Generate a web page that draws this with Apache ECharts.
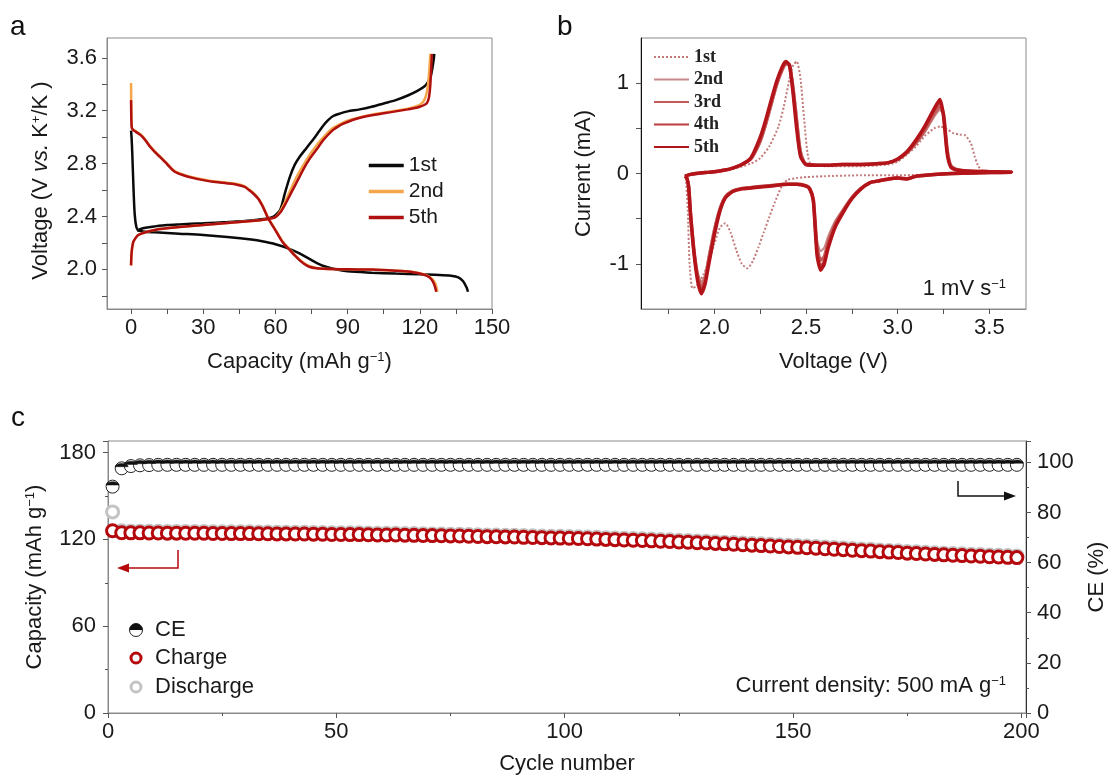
<!DOCTYPE html>
<html lang="en">
<head>
<meta charset="utf-8">
<title>Electrochemical performance</title>
<script src="https://cdn.jsdelivr.net/npm/echarts@6/dist/echarts.min.js"></script>
<style>
    html, body { margin: 0; padding: 0; background: #fff; }
    #chart { width: 1116px; height: 778px; }
</style>
</head>
<body>
<div id="chart"></div>
<script type="text/javascript">
    // ---- panel a: charge / discharge profiles (capacity mAh/g, voltage V)
    var cap1Dis = [0, 0.2, 0.5, 1.0, 1.5, 2.2, 3.0, 4, 6, 10, 20, 30, 40, 50, 55, 60, 65, 70, 75, 80, 85, 90, 100, 110, 120, 128, 133, 136, 138, 139.5, 140];
    var volt1Dis = [3.05, 3.0, 2.88, 2.62, 2.42, 2.32, 2.295, 2.29, 2.285, 2.28, 2.27, 2.26, 2.245, 2.225, 2.21, 2.19, 2.16, 2.12, 2.07, 2.025, 2.0, 1.985, 1.975, 1.968, 1.962, 1.958, 1.952, 1.94, 1.91, 1.86, 1.83];
    var cap1Chg = [2.5, 4, 6, 10, 15, 20, 30, 40, 50, 55, 58, 60, 62, 64, 66, 68, 70, 73, 76, 78, 80, 82, 84, 87, 90, 95, 100, 105, 110, 115, 119, 122, 123.5, 124.5, 125.3, 125.8, 126];
    var volt1Chg = [2.29, 2.305, 2.315, 2.325, 2.335, 2.34, 2.348, 2.358, 2.37, 2.38, 2.39, 2.41, 2.45, 2.58, 2.7, 2.79, 2.85, 2.92, 2.99, 3.04, 3.09, 3.13, 3.16, 3.18, 3.195, 3.21, 3.23, 3.255, 3.28, 3.315, 3.35, 3.385, 3.42, 3.46, 3.53, 3.59, 3.63];

    var cap2Dis = [0, 0.1, 0.3, 0.8, 2, 4, 6, 8, 10, 12, 15, 18, 22, 26, 30, 35, 40, 44, 47, 49, 51, 53, 55, 57, 60, 63, 66, 68, 70, 72, 74, 77, 80, 90, 100, 110, 116, 120, 123, 125, 126.3, 127, 127.3];
    var volt2Dis = [3.41, 3.2, 3.08, 3.06, 3.045, 3.02, 2.98, 2.93, 2.89, 2.855, 2.8, 2.745, 2.715, 2.695, 2.68, 2.665, 2.655, 2.645, 2.63, 2.605, 2.575, 2.535, 2.47, 2.39, 2.3, 2.21, 2.15, 2.11, 2.075, 2.045, 2.025, 2.01, 2.005, 2.0, 1.998, 1.99, 1.983, 1.97, 1.955, 1.93, 1.9, 1.86, 1.83];
    var cap2Chg = [0, 0.1, 0.3, 0.6, 1, 2, 3, 5, 8, 12, 20, 30, 40, 50, 55, 58, 60, 62, 64, 66, 68, 70, 72, 74, 76, 78, 80, 82, 84, 86, 88, 92, 96, 100, 105, 110, 115, 118, 120, 121.5, 122.5, 123.3, 123.8, 124.1, 124.4];
    var volt2Chg = [2.03, 2.09, 2.14, 2.18, 2.21, 2.24, 2.26, 2.275, 2.29, 2.305, 2.32, 2.335, 2.35, 2.365, 2.375, 2.385, 2.395, 2.44, 2.51, 2.59, 2.67, 2.74, 2.8, 2.86, 2.91, 2.96, 3.0, 3.04, 3.07, 3.09, 3.11, 3.135, 3.155, 3.17, 3.185, 3.2, 3.215, 3.23, 3.245, 3.27, 3.31, 3.38, 3.47, 3.55, 3.63];

    var cap5Dis = [0, 0.1, 0.3, 0.8, 2, 4, 6, 8, 10, 12, 15, 18, 22, 26, 30, 35, 40, 44, 47, 49, 51, 53, 55, 57, 60, 63, 66, 68, 70, 72, 74, 77, 80, 90, 100, 110, 116, 120, 123, 124.8, 125.9, 126.5, 126.8];
    var volt5Dis = [3.28, 3.15, 3.07, 3.055, 3.04, 3.015, 2.975, 2.925, 2.885, 2.85, 2.795, 2.74, 2.71, 2.69, 2.675, 2.66, 2.65, 2.64, 2.625, 2.6, 2.57, 2.53, 2.465, 2.385, 2.295, 2.205, 2.145, 2.105, 2.07, 2.04, 2.02, 2.008, 2.004, 2.0, 1.998, 1.99, 1.982, 1.968, 1.95, 1.925, 1.89, 1.855, 1.83];
    var cap5Chg = [0, 0.1, 0.3, 0.6, 1, 2, 3, 5, 8, 12, 20, 30, 40, 50, 55, 58, 60, 62, 64, 66, 68, 70, 72, 74, 76, 78, 80, 82, 84, 86, 88, 92, 96, 100, 105, 110, 115, 118, 120, 122, 123, 123.8, 124.3, 124.7, 125];
    var volt5Chg = [2.03, 2.09, 2.14, 2.18, 2.21, 2.24, 2.26, 2.275, 2.29, 2.305, 2.32, 2.335, 2.35, 2.365, 2.375, 2.385, 2.395, 2.43, 2.49, 2.56, 2.63, 2.7, 2.77, 2.83, 2.88, 2.93, 2.98, 3.02, 3.055, 3.08, 3.1, 3.13, 3.15, 3.165, 3.18, 3.195, 3.21, 3.22, 3.23, 3.245, 3.26, 3.3, 3.38, 3.5, 3.63];

    // ---- panel b: cyclic voltammetry (V, mA)
    var cv1VoltUp = [1.84, 1.9, 2.0, 2.1, 2.2, 2.25, 2.3, 2.35, 2.38, 2.41, 2.43, 2.45, 2.47, 2.49, 2.52, 2.6, 2.8, 2.95, 3.0, 3.05, 3.1, 3.15, 3.2, 3.23, 3.27, 3.3, 3.34, 3.37, 3.4, 3.42, 3.44, 3.47, 3.5, 3.62];
    var cv1CurUp = [-0.02, 0.0, 0.02, 0.05, 0.11, 0.17, 0.3, 0.52, 0.75, 1.05, 1.2, 1.24, 1.05, 0.6, 0.12, 0.08, 0.08, 0.1, 0.13, 0.21, 0.3, 0.42, 0.5, 0.52, 0.49, 0.45, 0.43, 0.42, 0.33, 0.19, 0.08, 0.02, 0.012, 0.01];
    var cv1VoltDown = [3.62, 3.4, 3.2, 3.0, 2.8, 2.6, 2.5, 2.45, 2.4, 2.37, 2.33, 2.3, 2.27, 2.24, 2.21, 2.18, 2.15, 2.12, 2.09, 2.06, 2.03, 2.0, 1.97, 1.94, 1.92, 1.9, 1.88, 1.865, 1.855, 1.845];
    var cv1CurDown = [0.01, 0.0, -0.01, -0.02, -0.02, -0.03, -0.04, -0.05, -0.07, -0.13, -0.32, -0.48, -0.65, -0.82, -0.97, -1.05, -1.0, -0.85, -0.66, -0.55, -0.6, -0.78, -0.98, -1.12, -1.2, -1.25, -1.27, -1.0, -0.4, -0.05];

    // cycles 2-5 share the same voltage steps
    var cvVoltUp = [1.84, 1.87, 1.9, 1.95, 2.0, 2.05, 2.1, 2.15, 2.2, 2.25, 2.28, 2.31, 2.34, 2.37, 2.39, 2.41, 2.43, 2.45, 2.47, 2.5, 2.6, 2.7, 2.8, 2.9, 2.95, 3.0, 3.05, 3.1, 3.15, 3.2, 3.23, 3.25, 3.27, 3.29, 3.32, 3.4, 3.5, 3.62];
    var cvVoltDown = [3.62, 3.5, 3.4, 3.3, 3.2, 3.1, 3.05, 3.0, 2.95, 2.9, 2.85, 2.8, 2.75, 2.7, 2.66, 2.62, 2.6, 2.58, 2.56, 2.54, 2.52, 2.5, 2.45, 2.4, 2.3, 2.2, 2.15, 2.1, 2.06, 2.03, 2.0, 1.97, 1.95, 1.93, 1.91, 1.89, 1.87, 1.86, 1.85, 1.84];
    var cv2CurUp = [-0.03, -0.01, 0.0, 0.01, 0.02, 0.035, 0.06, 0.1, 0.16, 0.34, 0.52, 0.74, 0.96, 1.13, 1.2, 1.19, 1.0, 0.65, 0.28, 0.11, 0.09, 0.1, 0.1, 0.11, 0.12, 0.15, 0.22, 0.33, 0.46, 0.63, 0.7, 0.66, 0.3, 0.1, 0.05, 0.025, 0.02, 0.015];
    var cv3CurUp = [-0.03, -0.01, 0.0, 0.01, 0.02, 0.035, 0.06, 0.1, 0.165, 0.36, 0.55, 0.77, 0.99, 1.15, 1.22, 1.2, 0.92, 0.55, 0.22, 0.1, 0.09, 0.1, 0.1, 0.11, 0.12, 0.155, 0.23, 0.34, 0.49, 0.67, 0.74, 0.66, 0.26, 0.08, 0.045, 0.025, 0.02, 0.015];
    var cv4CurUp = [-0.03, -0.01, 0.0, 0.01, 0.02, 0.035, 0.06, 0.1, 0.17, 0.37, 0.57, 0.79, 1.01, 1.17, 1.23, 1.2, 0.9, 0.5, 0.2, 0.1, 0.09, 0.1, 0.1, 0.11, 0.12, 0.16, 0.235, 0.35, 0.51, 0.7, 0.78, 0.66, 0.24, 0.075, 0.04, 0.025, 0.02, 0.015];
    var cv5CurUp = [-0.03, -0.01, 0.0, 0.01, 0.02, 0.035, 0.06, 0.1, 0.175, 0.4, 0.59, 0.81, 1.02, 1.18, 1.24, 1.2, 0.88, 0.48, 0.19, 0.1, 0.09, 0.1, 0.1, 0.11, 0.12, 0.16, 0.24, 0.37, 0.53, 0.72, 0.82, 0.64, 0.22, 0.07, 0.04, 0.025, 0.02, 0.015];
    var cv2CurDown = [0.01, 0.01, 0.005, 0.0, -0.01, -0.03, -0.06, -0.05, -0.06, -0.08, -0.1, -0.16, -0.26, -0.4, -0.52, -0.7, -0.82, -0.86, -0.74, -0.28, -0.16, -0.13, -0.12, -0.12, -0.13, -0.15, -0.16, -0.19, -0.25, -0.38, -0.6, -0.9, -1.12, -1.2, -1.1, -0.84, -0.42, -0.14, -0.05, -0.03];
    var cv3CurDown = [0.01, 0.01, 0.005, 0.0, -0.01, -0.03, -0.06, -0.05, -0.06, -0.08, -0.1, -0.165, -0.27, -0.42, -0.56, -0.77, -0.92, -0.96, -0.82, -0.29, -0.165, -0.135, -0.12, -0.12, -0.135, -0.155, -0.165, -0.195, -0.26, -0.4, -0.64, -0.95, -1.17, -1.26, -1.15, -0.87, -0.44, -0.15, -0.05, -0.03];
    var cv4CurDown = [0.01, 0.01, 0.005, 0.0, -0.01, -0.03, -0.06, -0.05, -0.06, -0.08, -0.1, -0.17, -0.28, -0.43, -0.58, -0.8, -0.97, -1.02, -0.86, -0.3, -0.17, -0.14, -0.12, -0.12, -0.14, -0.16, -0.17, -0.2, -0.27, -0.41, -0.66, -0.98, -1.2, -1.29, -1.18, -0.89, -0.45, -0.15, -0.05, -0.03];
    var cv5CurDown = [0.01, 0.01, 0.005, 0.0, -0.01, -0.03, -0.06, -0.05, -0.06, -0.08, -0.1, -0.17, -0.28, -0.44, -0.59, -0.83, -1.0, -1.07, -0.9, -0.3, -0.17, -0.14, -0.12, -0.12, -0.14, -0.16, -0.17, -0.2, -0.27, -0.42, -0.68, -1.0, -1.22, -1.33, -1.2, -0.9, -0.45, -0.15, -0.05, -0.03];

    // ---- panel c: cycling at 500 mA/g
    var cycles = [
        1, 3, 5, 7, 9, 11, 13, 15, 17, 19,
        21, 23, 25, 27, 29, 31, 33, 35, 37, 39,
        41, 43, 45, 47, 49, 51, 53, 55, 57, 59,
        61, 63, 65, 67, 69, 71, 73, 75, 77, 79,
        81, 83, 85, 87, 89, 91, 93, 95, 97, 99,
        101, 103, 105, 107, 109, 111, 113, 115, 117, 119,
        121, 123, 125, 127, 129, 131, 133, 135, 137, 139,
        141, 143, 145, 147, 149, 151, 153, 155, 157, 159,
        161, 163, 165, 167, 169, 171, 173, 175, 177, 179,
        181, 183, 185, 187, 189, 191, 193, 195, 197, 199];
    var chargeCap = [
        126.0, 124.6, 124.5, 124.5, 124.4, 124.4, 124.3, 124.3, 124.2, 124.2,
        124.2, 124.1, 124.1, 124.0, 124.0, 124.0, 123.9, 123.9, 123.8, 123.8,
        123.7, 123.7, 123.6, 123.5, 123.4, 123.4, 123.3, 123.3, 123.2, 123.1,
        123.0, 123.0, 122.9, 122.8, 122.7, 122.6, 122.5, 122.4, 122.3, 122.2,
        122.0, 121.9, 121.8, 121.7, 121.6, 121.4, 121.3, 121.2, 121.0, 120.9,
        120.8, 120.6, 120.4, 120.2, 120.0, 119.8, 119.6, 119.4, 119.2, 119.0,
        118.7, 118.5, 118.2, 118.0, 117.7, 117.5, 117.2, 116.9, 116.6, 116.3,
        116.0, 115.7, 115.4, 115.1, 114.8, 114.5, 114.2, 113.9, 113.5, 113.2,
        112.9, 112.5, 112.2, 111.9, 111.5, 111.2, 110.9, 110.5, 110.2, 109.9,
        109.6, 109.3, 109.0, 108.8, 108.5, 108.3, 108.0, 107.8, 107.6, 107.4];
    var dischargeCap = [
        139.0, 125.9, 125.7, 125.7, 125.6, 125.6, 125.5, 125.5, 125.4, 125.4,
        125.4, 125.3, 125.3, 125.2, 125.2, 125.2, 125.1, 125.1, 125.0, 125.0,
        124.9, 124.9, 124.8, 124.7, 124.6, 124.6, 124.5, 124.5, 124.4, 124.3,
        124.2, 124.2, 124.1, 124.0, 123.9, 123.8, 123.7, 123.6, 123.5, 123.4,
        123.2, 123.1, 123.0, 122.9, 122.8, 122.6, 122.5, 122.4, 122.2, 122.1,
        122.0, 121.8, 121.6, 121.4, 121.2, 121.0, 120.8, 120.6, 120.4, 120.2,
        119.9, 119.7, 119.4, 119.2, 118.9, 118.7, 118.4, 118.1, 117.8, 117.5,
        117.2, 116.9, 116.6, 116.3, 116.0, 115.7, 115.4, 115.1, 114.7, 114.4,
        114.1, 113.7, 113.4, 113.1, 112.7, 112.4, 112.1, 111.7, 111.4, 111.1,
        110.8, 110.5, 110.2, 110.0, 109.7, 109.5, 109.2, 109.0, 108.8, 108.6];
    var coulombEff = [
        90.3, 97.6, 98.5, 98.8, 98.9, 99.0, 99.0, 99.0, 99.0, 99.0,
        99.0, 99.0, 99.0, 99.0, 99.0, 99.0, 99.0, 99.0, 99.0, 99.0,
        99.0, 99.0, 99.0, 99.0, 99.0, 99.0, 99.0, 99.0, 99.0, 99.0,
        99.0, 99.0, 99.0, 99.0, 99.0, 99.0, 99.0, 99.0, 99.0, 99.0,
        99.0, 99.0, 99.0, 99.0, 99.0, 99.0, 99.0, 99.0, 99.0, 99.0,
        99.0, 99.0, 99.0, 99.0, 99.0, 99.0, 99.0, 99.0, 99.0, 99.0,
        99.0, 99.0, 99.0, 99.0, 99.0, 99.0, 99.0, 99.0, 99.0, 99.0,
        99.0, 99.0, 99.0, 99.0, 99.0, 99.0, 99.0, 99.0, 99.0, 99.0,
        99.0, 99.0, 99.0, 99.0, 99.0, 99.0, 99.0, 99.0, 99.0, 99.0,
        99.0, 99.0, 99.0, 99.0, 99.0, 99.0, 99.0, 99.0, 99.0, 99.0];

    // tick positions
    var capTicksA = [0, 15, 30, 45, 60, 75, 90, 105, 120, 135, 150];
    var capLabelsA = [0, 30, 60, 90, 120, 150];
    var voltTicksA = [1.8, 2.0, 2.2, 2.4, 2.6, 2.8, 3.0, 3.2, 3.4, 3.6];
    var voltLabelsA = [2.0, 2.4, 2.8, 3.2, 3.6];
    var voltTicksB = [1.75, 2.0, 2.25, 2.5, 2.75, 3.0, 3.25, 3.5];
    var voltLabelsB = [2.0, 2.5, 3.0, 3.5];
    var curTicksB = [-1, -0.5, 0, 0.5, 1];
    var curLabelsB = [-1, 0, 1];

    var FONT = 'Arial, "Liberation Sans", sans-serif';
    var TXT = '#1a1a1a';
    var BOX = '#8a8a8a';

    function zip(xs, ys) {
        return xs.map(function (x, i) { return [x, ys[i]]; });
    }

    var supRich = {
        sup: { fontSize: 13, fontFamily: FONT, color: TXT, verticalAlign: 'top', lineHeight: 13 },
        it: { fontSize: 22, fontFamily: FONT, color: TXT, fontStyle: 'italic' }
    };

    function axis(o) {
        var a = {
            gridIndex: o.grid, type: 'value', min: o.min, max: o.max,
            axisLine: { show: true, onZero: false, lineStyle: { color: o.lineColor || BOX, width: 1 } },
            axisTick: { show: true, length: 5, lineStyle: { color: '#555' } },
            axisLabel: { fontSize: 22, color: TXT, fontFamily: FONT, margin: o.margin || 8 },
            splitLine: { show: false },
            name: o.name, nameLocation: 'middle', nameGap: o.nameGap,
            nameTextStyle: { fontSize: 22, color: TXT, fontFamily: FONT, rich: supRich }
        };
        if (o.namePad) a.nameTextStyle.padding = o.namePad;
        if (o.position) a.position = o.position;
        if (o.interval) {
            a.interval = o.interval;
            a.axisLabel.showMaxLabel = false;
        }
        if (o.ticks) a.axisTick.customValues = o.ticks;
        if (o.labels) a.axisLabel.customValues = o.labels;
        if (o.fmt) a.axisLabel.formatter = o.fmt;
        if (o.minor) a.minorTick = { show: true, splitNumber: 2, length: 3, lineStyle: { color: '#555' } };
        return a;
    }

    function lineSeries(name, data, color, width, xi, yi, dash, smooth) {
        return {
            name: name, type: 'line', data: data, xAxisIndex: xi, yAxisIndex: yi,
            showSymbol: false, symbol: 'none', smooth: smooth,
            lineStyle: { color: color, width: width, type: dash || 'solid' },
            itemStyle: { color: color }
        };
    }

    var halfTop = 'path://M0,10A10,10,0,0,1,20,10Z';

    var myChart = echarts.init(document.getElementById('chart'));
    var option = {
        animation: false,
        backgroundColor: '#fff',
        textStyle: { fontFamily: FONT },
        grid: [
            { left: 107, top: 38, width: 385, height: 271, show: true, borderColor: BOX, borderWidth: 1 },
            { left: 641, top: 38, width: 385, height: 271, show: true, borderColor: BOX, borderWidth: 1 },
            { left: 108, top: 441, width: 920, height: 272, show: true, borderColor: BOX, borderWidth: 1 }
        ],
        xAxis: [
            axis({ grid: 0, min: -10, max: 150, ticks: capTicksA, labels: capLabelsA,
                name: 'Capacity (mAh g{sup|−1})', nameGap: 42 }),
            axis({ grid: 1, min: 1.6, max: 3.7, ticks: voltTicksB, labels: voltLabelsB,
                fmt: function (v) { return Number(v).toFixed(1); }, name: 'Voltage (V)', nameGap: 42 }),
            axis({ grid: 2, min: 0, max: 201, interval: 50, minor: true,
                name: 'Cycle number', nameGap: 40 })
        ],
        yAxis: [
            axis({ grid: 0, min: 1.7, max: 3.75, ticks: voltTicksA, labels: voltLabelsA, margin: 10,
                fmt: function (v) { return Number(v).toFixed(1); },
                name: 'Voltage (V {it|vs.} K{sup|+}/K )', nameGap: 55, namePad: [0, 14, 0, 0] }),
            axis({ grid: 1, min: -1.5, max: 1.5, ticks: curTicksB, labels: curLabelsB, lineColor: '#111', margin: 12,
                name: 'Current (mA)', nameGap: 46 }),
            axis({ grid: 2, min: 0, max: 188, interval: 60, minor: true, margin: 12,
                name: 'Capacity (mAh g{sup|−1})', nameGap: 62 }),
            axis({ grid: 2, min: 0, max: 108.5, interval: 20, minor: true, position: 'right', margin: 11,
                lineColor: '#333', name: 'CE (%)', nameGap: 60 })
        ],
        legend: [
            {
                left: 362, top: 150, orient: 'vertical', itemWidth: 35, itemHeight: 14, itemGap: 5,
                data: ['1st', '2nd', '5th'],
                itemStyle: { opacity: 0 },
                lineStyle: { width: 3.5 },
                textStyle: { fontSize: 21, color: TXT, fontFamily: FONT },
                selectedMode: false
            },
            {
                left: 648, top: 43, orient: 'vertical', itemWidth: 35, itemHeight: 12, itemGap: 4.5,
                data: ['1st ', '2nd ', '3rd ', '4th ', '5th '],
                itemStyle: { opacity: 0 },
                textStyle: { fontSize: 18, fontWeight: 'bold', color: '#222',
                    fontFamily: '"Liberation Serif", "Times New Roman", serif' },
                selectedMode: false
            }
        ],
        series: [
            lineSeries('1st', zip(cap1Dis, volt1Dis), '#0a0a0a', 2.5, 0, 0, null, 0.3),
            lineSeries('1st', zip(cap1Chg, volt1Chg), '#0a0a0a', 2.5, 0, 0, null, 0.3),
            lineSeries('2nd', zip(cap2Dis, volt2Dis), '#f5a54a', 2.5, 0, 0, null, 0.3),
            lineSeries('2nd', zip(cap2Chg, volt2Chg), '#f5a54a', 2.5, 0, 0, null, 0.3),
            lineSeries('5th', zip(cap5Dis, volt5Dis), '#b0100f', 2.5, 0, 0, null, 0.3),
            lineSeries('5th', zip(cap5Chg, volt5Chg), '#b0100f', 2.5, 0, 0, null, 0.3),

            lineSeries('1st ', zip(cv1VoltUp, cv1CurUp).concat(zip(cv1VoltDown, cv1CurDown)), '#c47a7a', 2, 1, 1, 'dotted', 0.2),
            lineSeries('2nd ', zip(cvVoltUp, cv2CurUp).concat(zip(cvVoltDown, cv2CurDown)), '#c78a8a', 2, 1, 1, null, 0.2),
            lineSeries('3rd ', zip(cvVoltUp, cv3CurUp).concat(zip(cvVoltDown, cv3CurDown)), '#c45a5a', 3.5, 1, 1, null, 0.2),
            lineSeries('4th ', zip(cvVoltUp, cv4CurUp).concat(zip(cvVoltDown, cv4CurDown)), '#ba3c3c', 2.5, 1, 1, null, 0.2),
            lineSeries('5th ', zip(cvVoltUp, cv5CurUp).concat(zip(cvVoltDown, cv5CurDown)), '#b3141a', 3.5, 1, 1, null, 0.2),

            {
                name: 'Discharge', type: 'scatter', xAxisIndex: 2, yAxisIndex: 2, data: zip(cycles, dischargeCap),
                symbol: 'circle', symbolSize: 12,
                itemStyle: { color: '#fff', borderColor: '#c4c4c4', borderWidth: 3, opacity: 1 }
            },
            {
                name: 'Charge', type: 'scatter', xAxisIndex: 2, yAxisIndex: 2, data: zip(cycles, chargeCap),
                symbol: 'circle', symbolSize: 12,
                itemStyle: { color: '#fff', borderColor: '#b5080c', borderWidth: 3, opacity: 1 }
            },
            {
                name: 'CE', type: 'scatter', xAxisIndex: 2, yAxisIndex: 3, data: zip(cycles, coulombEff),
                symbol: 'circle', symbolSize: 13,
                itemStyle: { color: '#fff', borderColor: '#222', borderWidth: 1, opacity: 1 }
            },
            {
                name: 'CE top', type: 'scatter', xAxisIndex: 2, yAxisIndex: 3, data: zip(cycles, coulombEff),
                symbol: halfTop, symbolSize: [13, 6.5], symbolKeepAspect: true, symbolOffset: [0, -3.25],
                itemStyle: { color: '#111', borderColor: '#111', borderWidth: 0.5, opacity: 1 }
            }
        ],
        graphic: [
            { type: 'text', left: 10, top: 13, style: { text: 'a', fontSize: 28, fill: '#111', fontFamily: FONT } },
            { type: 'text', left: 557, top: 13, style: { text: 'b', fontSize: 28, fill: '#111', fontFamily: FONT } },
            { type: 'text', left: 11, top: 404, style: { text: 'c', fontSize: 28, fill: '#111', fontFamily: FONT } },
            { type: 'text', x: 1006, y: 289, style: { text: '1 mV s{sup|−1}', fontSize: 22, fill: TXT, fontFamily: FONT,
                align: 'right', verticalAlign: 'middle', rich: supRich } },
            { type: 'text', x: 1006, y: 686, style: { text: 'Current density: 500 mA g{sup|−1}', fontSize: 22, fill: TXT,
                fontFamily: FONT, align: 'right', verticalAlign: 'middle', rich: supRich } },
            // arrows pointing at the axes
            { type: 'polyline', shape: { points: [[178, 550], [178, 568], [127, 568]] }, style: { stroke: '#b5080c', lineWidth: 1.5 } },
            { type: 'polygon', shape: { points: [[117, 568], [129, 563.5], [129, 572.5]] }, style: { fill: '#b5080c' } },
            { type: 'polyline', shape: { points: [[958, 481], [958, 496], [1005, 496]] }, style: { stroke: '#111', lineWidth: 1.5 } },
            { type: 'polygon', shape: { points: [[1016, 496], [1004, 491.5], [1004, 500.5]] }, style: { fill: '#111' } },
            // legend of panel c
            { type: 'circle', shape: { cx: 136, cy: 630, r: 6.5 }, style: { fill: '#fff', stroke: '#222', lineWidth: 1 } },
            { type: 'sector', shape: { cx: 136, cy: 630, r: 6.5, r0: 0, startAngle: Math.PI, endAngle: Math.PI * 2 }, style: { fill: '#111' } },
            { type: 'circle', shape: { cx: 136, cy: 658, r: 5 }, style: { fill: '#fff', stroke: '#b5080c', lineWidth: 3 } },
            { type: 'circle', shape: { cx: 136, cy: 687, r: 5 }, style: { fill: '#fff', stroke: '#c4c4c4', lineWidth: 3 } },
            { type: 'text', x: 155, y: 630, style: { text: 'CE', fontSize: 22, fill: TXT, fontFamily: FONT, verticalAlign: 'middle' } },
            { type: 'text', x: 155, y: 658, style: { text: 'Charge', fontSize: 22, fill: TXT, fontFamily: FONT, verticalAlign: 'middle' } },
            { type: 'text', x: 155, y: 687, style: { text: 'Discharge', fontSize: 22, fill: TXT, fontFamily: FONT, verticalAlign: 'middle' } }
        ]
    };
    myChart.setOption(option);
</script>
</body>
</html>
